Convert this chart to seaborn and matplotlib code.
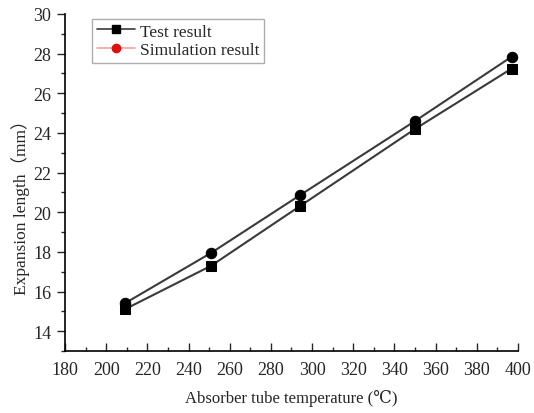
import numpy as np
import pandas as pd
import matplotlib
matplotlib.use("Agg")
import matplotlib.pyplot as plt
from matplotlib.lines import Line2D
from matplotlib.ticker import MultipleLocator
import seaborn as sns

temps_test = [209, 251, 294, 350, 397]
test_vals = [15.1, 17.3, 20.3, 24.2, 27.25]
temps_sim = [209, 251, 294, 350, 397]
sim_vals = [15.4, 17.95, 20.85, 24.6, 27.85]
series_names = ["Test result", "Simulation result"]

sns.set_style("white")
plt.rcParams['font.family'] = ['Liberation Serif', 'DejaVu Serif', 'Noto Sans CJK SC']

df = pd.DataFrame({
    "T": temps_test + temps_sim,
    "L": test_vals + sim_vals,
    "series": [series_names[0]] * len(temps_test) + [series_names[1]] * len(temps_sim),
})

fig = plt.figure(figsize=(5.34, 4.14), dpi=100)
ax = fig.add_axes([0.1217, 0.1498, 0.8483, 0.8140])

sns.lineplot(data=df, x="T", y="L", hue="series", style="series",
             markers={series_names[0]: "s", series_names[1]: "o"}, dashes=False,
             palette={series_names[0]: "#3a3a3a", series_names[1]: "#3a3a3a"},
             markersize=7.5, markeredgecolor="black", markerfacecolor="black",
             linewidth=1.5, ax=ax, legend=False, sort=True)

ax.set_xlim(180, 400)
ax.set_ylim(13, 30)
ax.xaxis.set_major_locator(MultipleLocator(20))
ax.xaxis.set_minor_locator(MultipleLocator(10))
ax.yaxis.set_major_locator(MultipleLocator(2))
ax.yaxis.set_minor_locator(MultipleLocator(1))
ax.set_yticks([14, 16, 18, 20, 22, 24, 26, 28, 30])

for s in ["top", "right"]:
    ax.spines[s].set_visible(False)
for s in ["left", "bottom"]:
    ax.spines[s].set_color("black")
    ax.spines[s].set_linewidth(1.2)

ax.tick_params(axis="x", which="major", direction="in", length=6, width=1, labelsize=13, pad=7, bottom=True)
ax.tick_params(axis="x", which="minor", direction="in", length=3, width=1, bottom=True)
ax.tick_params(axis="y", which="major", direction="out", length=6, width=1, labelsize=13, pad=4, left=True)
ax.tick_params(axis="y", which="minor", direction="out", length=3, width=1, left=True)

ax.set_xlabel("Absorber tube temperature (℃)", fontsize=12, labelpad=8)
ax.set_ylabel("Expansion length（mm）", fontsize=12.5)
ax.yaxis.set_label_coords(-0.078, 0.44)

handles = [
    Line2D([], [], color="#3a3a3a", lw=1.2, marker="s", markersize=6,
           markerfacecolor="black", markeredgecolor="black"),
    Line2D([], [], color="#f2a0a0", lw=1.2, marker="o", markersize=6,
           markerfacecolor="#e01010", markeredgecolor="#e01010"),
]
leg = ax.legend(handles, series_names, loc="upper left", bbox_to_anchor=(0.06, 0.985),
                fontsize=12.5, frameon=True, fancybox=False, borderpad=0.25,
                labelspacing=0.15, handlelength=2.2, handletextpad=0.3, borderaxespad=0)
leg.get_frame().set_edgecolor("#999999")
leg.get_frame().set_linewidth(1.0)

fig.savefig("out.png", dpi=100)
